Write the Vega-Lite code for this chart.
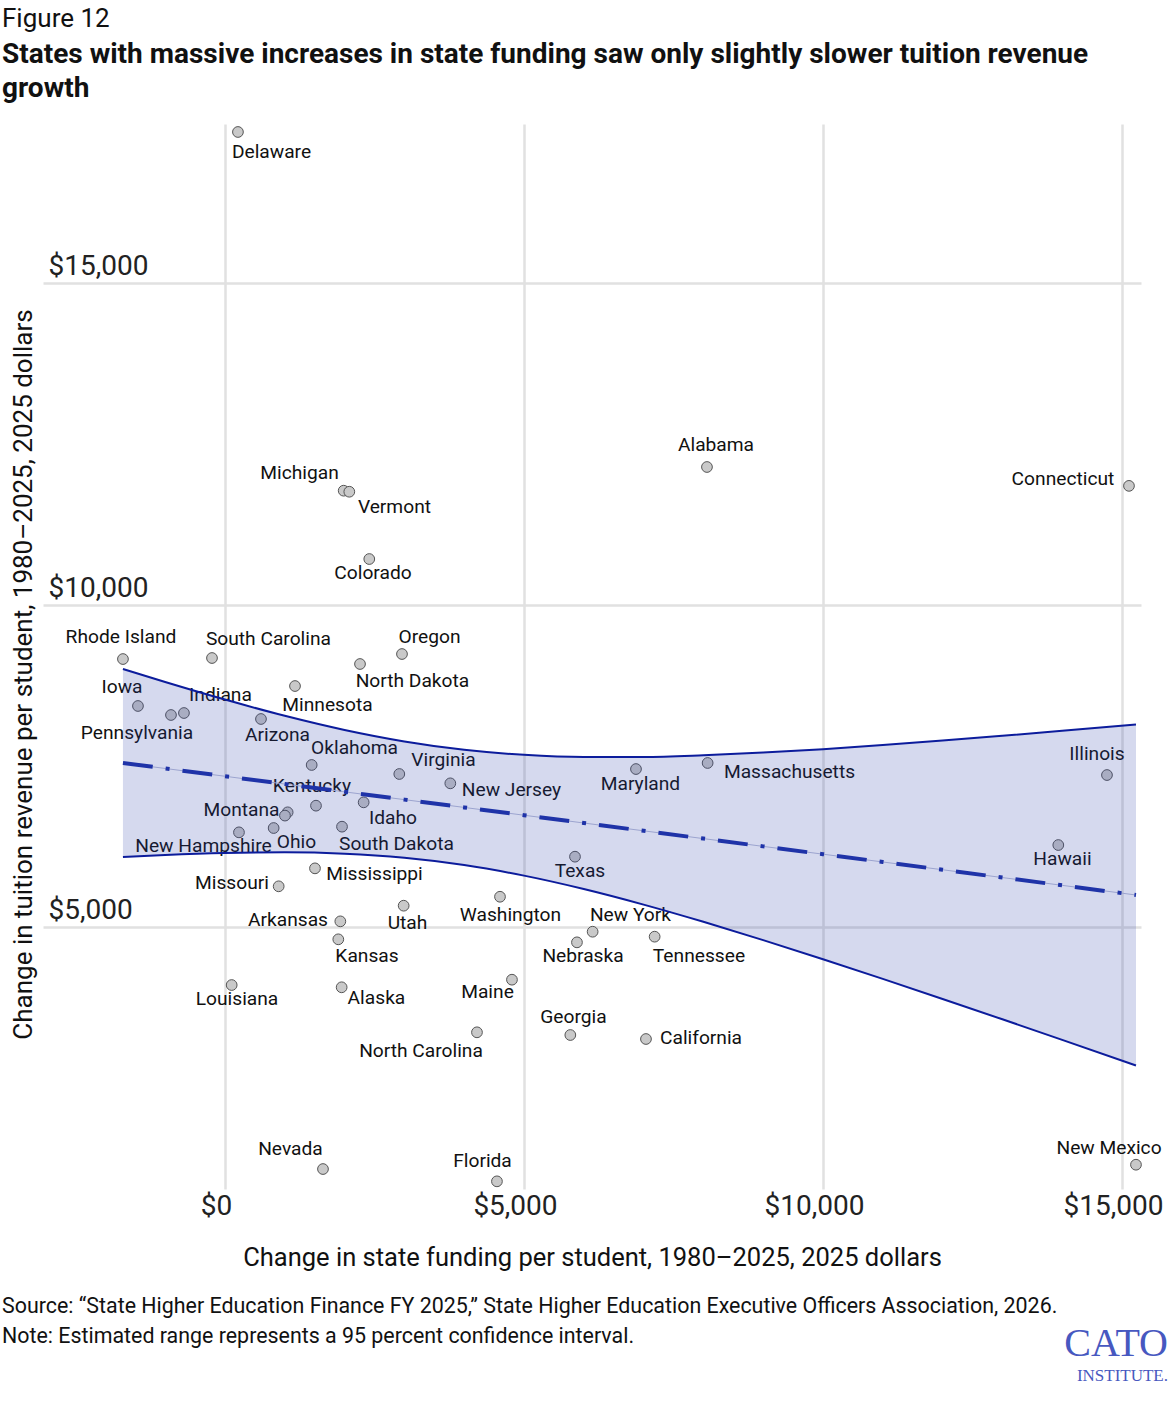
{
  "$schema": "https://vega.github.io/schema/vega-lite/v6.json",
  "background": "white",
  "padding": {"left": 2, "top": 6, "right": 0, "bottom": 0},
  "config": {
    "view": {"stroke": null},
    "font": "Roboto",
    "axisX": {
      "grid": true, "gridColor": "#e1e1e1", "gridWidth": 2.5, "domain": false, "ticks": false, "tickSize": 0,
      "labelFont": "Roboto", "labelFontSize": 28, "labelColor": "#222222", "labelPadding": 3, "labelOffset": -9,
      "labelFlush": false, "labelOverlap": false,
      "titleFont": "Roboto", "titleFontSize": 25.5, "titleFontWeight": "normal", "titleColor": "#111111", "titlePadding": 25
    },
    "axisY": {
      "grid": true, "gridColor": "#e1e1e1", "gridWidth": 2.5, "domain": false, "ticks": false, "tickSize": 0,
      "labelFont": "Roboto", "labelFontSize": 28, "labelColor": "#222222", "labelAlign": "left", "labelBaseline": "alphabetic",
      "labelPadding": -5, "labelOffset": -9, "labelFlush": false, "labelOverlap": false,
      "minExtent": 0, "maxExtent": 0,
      "titleFont": "Roboto", "titleFontSize": 26, "titleFontWeight": "normal", "titleColor": "#111111", "titlePadding": 7
    }
  },
  "title": {
    "text": "Figure 12",
    "subtitle": ["States with massive increases in state funding saw only slightly slower tuition revenue", "growth"],
    "anchor": "start", "frame": "bounds",
    "font": "Roboto", "fontSize": 26, "fontWeight": "normal", "color": "#111111",
    "subtitleFont": "Roboto", "subtitleFontSize": 28, "subtitleFontWeight": "bold", "subtitleColor": "#111111",
    "subtitleLineHeight": 34, "subtitlePadding": 9, "offset": 21
  },
  "datasets": {
    "states": [
      {"state": "Delaware", "x": 217, "y": 17345, "lx": 778, "ly": 17034},
      {"state": "Alabama", "x": 8060, "y": 12143, "lx": 8211, "ly": 12484},
      {"state": "Connecticut", "x": 15117, "y": 11850, "lx": 14013, "ly": 11960},
      {"state": "Michigan", "x": 1985, "y": 11775, "lx": 1246, "ly": 12050},
      {"state": "Vermont", "x": 2079, "y": 11759, "lx": 2834, "ly": 11522},
      {"state": "Colorado", "x": 2413, "y": 10714, "lx": 2475, "ly": 10497},
      {"state": "Rhode Island", "x": -1706, "y": 9161, "lx": -1739, "ly": 9503},
      {"state": "South Carolina", "x": -217, "y": 9177, "lx": 727, "ly": 9472},
      {"state": "Oregon", "x": 2960, "y": 9239, "lx": 3420, "ly": 9503},
      {"state": "North Dakota", "x": 2258, "y": 9084, "lx": 3135, "ly": 8820},
      {"state": "Minnesota", "x": 1171, "y": 8742, "lx": 1714, "ly": 8447},
      {"state": "Iowa", "x": -1455, "y": 8432, "lx": -1722, "ly": 8727},
      {"state": "Pennsylvania", "x": -903, "y": 8292, "lx": -1472, "ly": 8012},
      {"state": "Indiana", "x": -686, "y": 8323, "lx": -75, "ly": 8602},
      {"state": "Arizona", "x": 602, "y": 8230, "lx": 878, "ly": 7981},
      {"state": "Oklahoma", "x": 1450, "y": 7516, "lx": 2166, "ly": 7780},
      {"state": "Virginia", "x": 2915, "y": 7376, "lx": 3654, "ly": 7593},
      {"state": "New Jersey", "x": 3768, "y": 7231, "lx": 4791, "ly": 7127},
      {"state": "Maryland", "x": 6873, "y": 7453, "lx": 6948, "ly": 7220},
      {"state": "Massachusetts", "x": 8071, "y": 7547, "lx": 9440, "ly": 7407},
      {"state": "Illinois", "x": 14749, "y": 7360, "lx": 14582, "ly": 7686},
      {"state": "Hawaii", "x": 13935, "y": 6273, "lx": 14005, "ly": 6056},
      {"state": "Kentucky", "x": 1522, "y": 6884, "lx": 1455, "ly": 7189},
      {"state": "Idaho", "x": 2319, "y": 6936, "lx": 2809, "ly": 6693},
      {"state": "Montana", "x": 1048, "y": 6781, "lx": 276, "ly": 6817},
      {"state": "", "x": 1003, "y": 6730},
      {"state": "Ohio", "x": 814, "y": 6537, "lx": 1196, "ly": 6320},
      {"state": "New Hampshire", "x": 234, "y": 6470, "lx": -360, "ly": 6258},
      {"state": "South Dakota", "x": 1957, "y": 6558, "lx": 2868, "ly": 6289},
      {"state": "Mississippi", "x": 1505, "y": 5911, "lx": 2500, "ly": 5823},
      {"state": "Missouri", "x": 898, "y": 5632, "lx": 117, "ly": 5683},
      {"state": "Texas", "x": 5853, "y": 6092, "lx": 5936, "ly": 5870},
      {"state": "Arkansas", "x": 1929, "y": 5088, "lx": 1054, "ly": 5109},
      {"state": "Utah", "x": 2988, "y": 5331, "lx": 3052, "ly": 5062},
      {"state": "Washington", "x": 4599, "y": 5470, "lx": 4774, "ly": 5186},
      {"state": "Kansas", "x": 1895, "y": 4809, "lx": 2375, "ly": 4550},
      {"state": "Louisiana", "x": 112, "y": 4099, "lx": 201, "ly": 3882},
      {"state": "Alaska", "x": 1951, "y": 4064, "lx": 2533, "ly": 3898},
      {"state": "Maine", "x": 4799, "y": 4182, "lx": 4390, "ly": 3991},
      {"state": "North Carolina", "x": 4214, "y": 3365, "lx": 3278, "ly": 3075},
      {"state": "Nevada", "x": 1639, "y": 1242, "lx": 1095, "ly": 1553},
      {"state": "Florida", "x": 4548, "y": 1051, "lx": 4306, "ly": 1366},
      {"state": "Nebraska", "x": 5886, "y": 4762, "lx": 5987, "ly": 4550},
      {"state": "Georgia", "x": 5775, "y": 3323, "lx": 5828, "ly": 3602},
      {"state": "New York", "x": 6148, "y": 4927, "lx": 6781, "ly": 5186},
      {"state": "Tennessee", "x": 7185, "y": 4850, "lx": 7926, "ly": 4550},
      {"state": "California", "x": 7040, "y": 3261, "lx": 7960, "ly": 3276},
      {"state": "New Mexico", "x": 15234, "y": 1309, "lx": 14783, "ly": 1568}
    ],
    "band": [
      {"x": -1706, "upper": 9007, "lower": 6087, "fit": 7547},
      {"x": -1000, "upper": 8805, "lower": 6119, "fit": 7462},
      {"x": 0, "upper": 8532, "lower": 6150, "fit": 7341},
      {"x": 1000, "upper": 8280, "lower": 6160, "fit": 7220},
      {"x": 2000, "upper": 8060, "lower": 6138, "fit": 7099},
      {"x": 3000, "upper": 7882, "lower": 6074, "fit": 6978},
      {"x": 4000, "upper": 7752, "lower": 5962, "fit": 6857},
      {"x": 5000, "upper": 7674, "lower": 5798, "fit": 6736},
      {"x": 6000, "upper": 7640, "lower": 5590, "fit": 6615},
      {"x": 7000, "upper": 7640, "lower": 5348, "fit": 6494},
      {"x": 8000, "upper": 7666, "lower": 5081, "fit": 6373},
      {"x": 9000, "upper": 7708, "lower": 4796, "fit": 6252},
      {"x": 10000, "upper": 7762, "lower": 4500, "fit": 6131},
      {"x": 11000, "upper": 7826, "lower": 4194, "fit": 6010},
      {"x": 12000, "upper": 7895, "lower": 3883, "fit": 5889},
      {"x": 13000, "upper": 7969, "lower": 3567, "fit": 5768},
      {"x": 14000, "upper": 8046, "lower": 3248, "fit": 5647},
      {"x": 15234, "upper": 8145, "lower": 2849, "fit": 5497}
    ]
  },
  "spacing": -24,
  "vconcat": [
    {
      "width": 1098,
      "height": 1065,
      "title": {
        "text": ["Source: “State Higher Education Finance FY 2025,” State Higher Education Executive Officers Association, 2026.", "Note: Estimated range represents a 95 percent confidence interval."],
        "orient": "bottom", "anchor": "start", "frame": "bounds",
        "font": "Roboto", "fontSize": 21.4, "fontWeight": "normal", "color": "#111111",
        "lineHeight": 30, "offset": 25, "dx": -8
      },
      "layer": [
        {
          "data": {"name": "states"},
          "mark": {"type": "circle", "fill": "#c9c9c9", "stroke": "#555555", "strokeWidth": 1, "size": 115, "opacity": 1},
          "encoding": {
            "x": {"field": "x", "type": "quantitative",
              "scale": {"domain": [-3043, 15318], "nice": false, "zero": false},
              "axis": {"values": [0, 5000, 10000, 15000], "format": "$,.0f", "title": "Change in state funding per student, 1980–2025, 2025 dollars"}},
            "y": {"field": "y", "type": "quantitative",
              "scale": {"domain": [932, 17469], "nice": false, "zero": false},
              "axis": {"values": [5000, 10000, 15000], "format": "$,.0f", "title": "Change in tuition revenue per student, 1980–2025, 2025 dollars", "titleY": 550}}
          }
        },
        {
          "data": {"name": "states"},
          "transform": [{"filter": "datum.lx != null"}],
          "mark": {"type": "text", "font": "Roboto", "fontSize": 19.2, "color": "#111111", "align": "center", "baseline": "middle"},
          "encoding": {
            "x": {"field": "lx", "type": "quantitative", "scale": {"domain": [-3043, 15318], "nice": false, "zero": false},
              "axis": {"values": [0, 5000, 10000, 15000], "format": "$,.0f", "title": "Change in state funding per student, 1980–2025, 2025 dollars"}},
            "y": {"field": "ly", "type": "quantitative", "scale": {"domain": [932, 17469], "nice": false, "zero": false},
              "axis": {"values": [5000, 10000, 15000], "format": "$,.0f", "title": "Change in tuition revenue per student, 1980–2025, 2025 dollars", "titleY": 550}},
            "text": {"field": "state"}
          }
        },
        {
          "data": {"name": "band"},
          "mark": {"type": "area", "fill": "#2d41aa", "fillOpacity": 0.2, "interpolate": "monotone"},
          "encoding": {
            "x": {"field": "x", "type": "quantitative", "scale": {"domain": [-3043, 15318], "nice": false, "zero": false},
              "axis": {"values": [0, 5000, 10000, 15000], "format": "$,.0f", "title": "Change in state funding per student, 1980–2025, 2025 dollars"}},
            "y": {"field": "upper", "type": "quantitative", "scale": {"domain": [932, 17469], "nice": false, "zero": false},
              "axis": {"values": [5000, 10000, 15000], "format": "$,.0f", "title": "Change in tuition revenue per student, 1980–2025, 2025 dollars", "titleY": 550}},
            "y2": {"field": "lower"}
          }
        },
        {
          "data": {"name": "band"},
          "mark": {"type": "line", "color": "#0c1c9c", "strokeWidth": 2, "interpolate": "monotone"},
          "encoding": {
            "x": {"field": "x", "type": "quantitative", "scale": {"domain": [-3043, 15318], "nice": false, "zero": false},
              "axis": {"values": [0, 5000, 10000, 15000], "format": "$,.0f", "title": "Change in state funding per student, 1980–2025, 2025 dollars"}},
            "y": {"field": "upper", "type": "quantitative", "scale": {"domain": [932, 17469], "nice": false, "zero": false},
              "axis": {"values": [5000, 10000, 15000], "format": "$,.0f", "title": "Change in tuition revenue per student, 1980–2025, 2025 dollars", "titleY": 550}}
          }
        },
        {
          "data": {"name": "band"},
          "mark": {"type": "line", "color": "#0c1c9c", "strokeWidth": 2, "interpolate": "monotone"},
          "encoding": {
            "x": {"field": "x", "type": "quantitative", "scale": {"domain": [-3043, 15318], "nice": false, "zero": false},
              "axis": {"values": [0, 5000, 10000, 15000], "format": "$,.0f", "title": "Change in state funding per student, 1980–2025, 2025 dollars"}},
            "y": {"field": "lower", "type": "quantitative", "scale": {"domain": [932, 17469], "nice": false, "zero": false},
              "axis": {"values": [5000, 10000, 15000], "format": "$,.0f", "title": "Change in tuition revenue per student, 1980–2025, 2025 dollars", "titleY": 550}}
          }
        },
        {
          "data": {"name": "band"},
          "mark": {"type": "line", "color": "#9ca4cf", "strokeWidth": 1},
          "encoding": {
            "x": {"field": "x", "type": "quantitative", "scale": {"domain": [-3043, 15318], "nice": false, "zero": false},
              "axis": {"values": [0, 5000, 10000, 15000], "format": "$,.0f", "title": "Change in state funding per student, 1980–2025, 2025 dollars"}},
            "y": {"field": "fit", "type": "quantitative", "scale": {"domain": [932, 17469], "nice": false, "zero": false},
              "axis": {"values": [5000, 10000, 15000], "format": "$,.0f", "title": "Change in tuition revenue per student, 1980–2025, 2025 dollars", "titleY": 550}}
          }
        },
        {
          "data": {"name": "band"},
          "mark": {"type": "line", "color": "#1f33a8", "strokeWidth": 4, "strokeDash": [30, 13, 4, 13]},
          "encoding": {
            "x": {"field": "x", "type": "quantitative", "scale": {"domain": [-3043, 15318], "nice": false, "zero": false},
              "axis": {"values": [0, 5000, 10000, 15000], "format": "$,.0f", "title": "Change in state funding per student, 1980–2025, 2025 dollars"}},
            "y": {"field": "fit", "type": "quantitative", "scale": {"domain": [932, 17469], "nice": false, "zero": false},
              "axis": {"values": [5000, 10000, 15000], "format": "$,.0f", "title": "Change in tuition revenue per student, 1980–2025, 2025 dollars", "titleY": 550}}
          }
        }
      ]
    },
    {
      "width": 1125,
      "height": 1,
      "data": {"values": [{}]},
      "mark": {"type": "text", "text": ""},
      "title": {
        "text": "CATO", "subtitle": "INSTITUTE.",
        "anchor": "end", "frame": "group",
        "font": "Liberation Serif", "fontSize": 40, "fontWeight": "normal", "color": "#4758c0",
        "subtitleFont": "Liberation Serif", "subtitleFontSize": 17, "subtitleColor": "#4758c0", "subtitlePadding": 4, "offset": 0
      }
    }
  ]
}
